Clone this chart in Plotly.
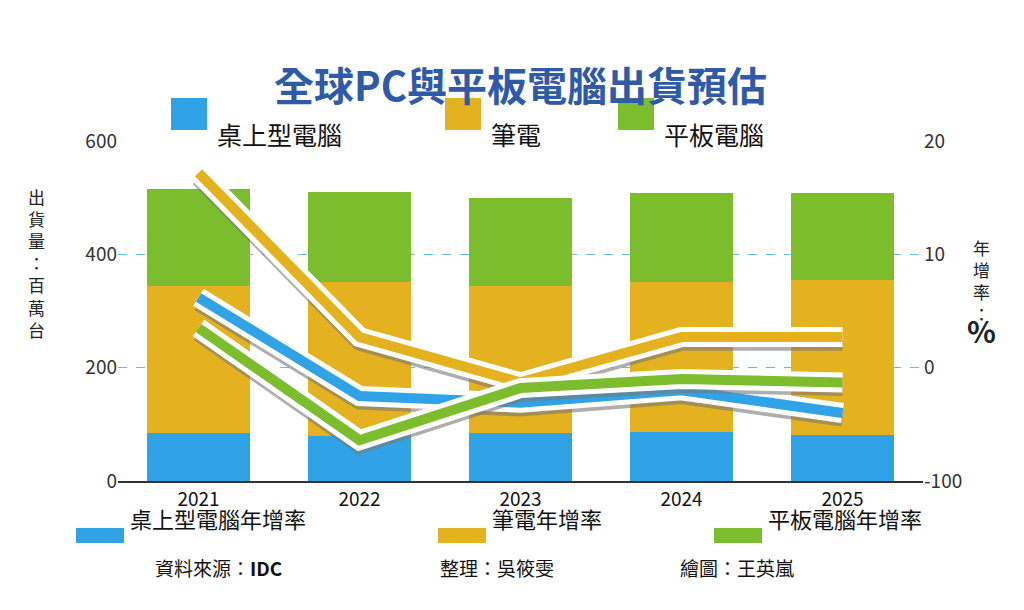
import plotly.graph_objects as go

years = ["2021", "2022", "2023", "2024", "2025"]
desktop = [85, 80, 85, 87, 82]
laptop = [260, 272, 260, 265, 273]
tablet = [170, 158, 155, 156, 153]
desk_g = [6.2, -2.5, -3.1, -2.0, -4.0]
lap_g = [17.2, 2.7, -1.3, 2.7, 2.7]
tab_g = [3.5, -6.4, -1.8, -1.0, -1.3]

BLUE, YEL, GRN = "#2fa3e6", "#e4b11f", "#7cbd2d"
F = "Noto Sans CJK TC"
fig = go.Figure()
for v, c in [(desktop, BLUE), (laptop, YEL), (tablet, GRN)]:
    fig.add_bar(x=years, y=v, marker_color=c, marker_line_width=0, width=0.64, showlegend=False)
for g, c in [(lap_g, YEL), (desk_g, BLUE), (tab_g, GRN)]:
    fig.add_scatter(x=years, y=[v - 0.5 for v in g], yaxis="y2", mode="lines",
                    line=dict(color="rgba(120,120,120,0.6)", width=16), showlegend=False, hoverinfo="skip")
    fig.add_scatter(x=years, y=g, yaxis="y2", mode="lines",
                    line=dict(color="white", width=20), showlegend=False, hoverinfo="skip")
    fig.add_scatter(x=years, y=g, yaxis="y2", mode="lines",
                    line=dict(color=c, width=10), showlegend=False)

L, R, T, B = 110, 109, 133, 137
PW, PH = 1024 - L - R, 610 - T - B
def px(x): return (x - L) / PW
def py(y): return (610 - B - y) / PH

ann = [dict(text="<b>全球PC與平板電腦出貨預估</b>", x=px(512), y=py(45), xref="paper", yref="paper",
            showarrow=False, font=dict(size=40, color="#2e5aa8", family=F)),
       dict(text="出<br>貨<br>量<br>：<br>百<br>萬<br>台", x=px(18), y=py(255), xref="paper", yref="paper",
            showarrow=False, font=dict(size=17, family=F, color="#222")),
       dict(text="年<br>增<br>率<br>：<br><b><span style='font-size:30px'>%</span></b>",
            x=px(990), y=py(225), xref="paper", yref="paper", showarrow=False,
            font=dict(size=17, family=F, color="#222"))]
shapes = []
for x0, c, t in [(163, BLUE, "桌上型電腦"), (437, YEL, "筆電"), (610, GRN, "平板電腦")]:
    shapes.append(dict(type="rect", xref="paper", yref="paper", x0=px(x0), x1=px(x0 + 36),
                       y0=py(122), y1=py(90), fillcolor=c, line_width=0))
    ann.append(dict(text=t, x=px(x0 + 44), y=py(106), xref="paper", yref="paper", xanchor="left",
                    showarrow=False, font=dict(size=25, family=F, color="#111")))
for x0, c, t in [(68, BLUE, "桌上型電腦年增率"), (430, YEL, "筆電年增率"), (706, GRN, "平板電腦年增率")]:
    shapes.append(dict(type="rect", xref="paper", yref="paper", x0=px(x0), x1=px(x0 + 48),
                       y0=py(535), y1=py(520), fillcolor=c, line_width=0))
    ann.append(dict(text=t, x=px(x0 + 52), y=py(528), xref="paper", yref="paper", xanchor="left",
                    showarrow=False, font=dict(size=22, family=F, color="#111")))
for x0, t in [(145, "資料來源：<b>IDC</b>"), (430, "整理：吳筱雯"), (670, "繪圖：王英嵐")]:
    ann.append(dict(text=t, x=px(x0), y=py(575), xref="paper", yref="paper", xanchor="left",
                    showarrow=False, font=dict(size=19, family=F, color="#111")))

fig.update_layout(
    width=1024, height=610, plot_bgcolor="white", paper_bgcolor="white",
    barmode="stack", bargap=0.36,
    margin=dict(l=L, r=R, t=T, b=B),
    xaxis=dict(tickfont=dict(size=19, family=F, color="#111"), showline=True, linecolor="#333", linewidth=1.5),
    yaxis=dict(range=[0, 600], tickvals=[0, 200, 400, 600], tickfont=dict(size=19, family=F, color="#333"),
               gridcolor="#6cb8e8", griddash="dash", zeroline=False),
    yaxis2=dict(range=[-10, 20], tickvals=[-10, 0, 10, 20], ticktext=["-100", "0", "10", "20"], overlaying="y", side="right",
                showgrid=False, zeroline=False, tickfont=dict(size=19, family=F, color="#333")),
    annotations=ann, shapes=shapes,
)
fig.write_html("out.html")
